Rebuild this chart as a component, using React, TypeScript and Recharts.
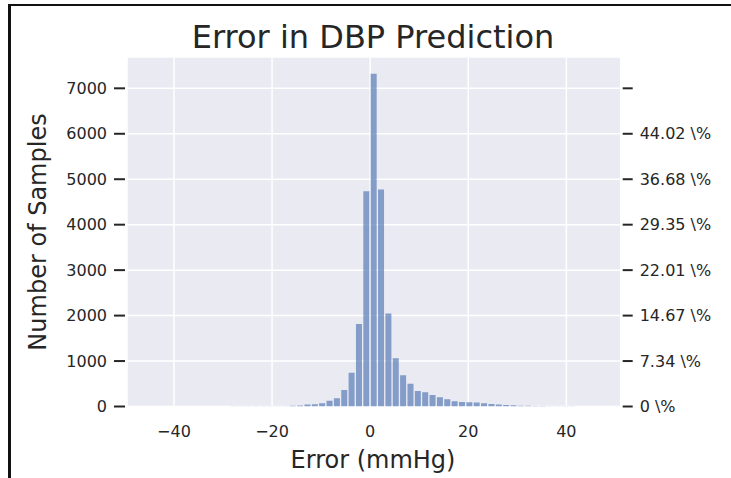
import { ComposedChart, Bar, Line, XAxis, YAxis, CartesianGrid } from 'recharts';

// histogram of prediction error, 1.5 mmHg bins starting at -45
const binStart = -45;
const binWidth = 1.5;
const counts = [
  2, 1, 1, 2, 1, 1, 2, 1, 2, 2,
  2, 3, 3, 3, 4, 4, 5, 6, 8, 15,
  24, 42, 50, 72, 128, 180, 363, 744, 1813, 4736,
  7322, 4773, 2048, 1059, 688, 500, 341, 311, 253, 201,
  158, 117, 99, 92, 90, 70, 55, 46, 33, 26,
  18, 17, 11, 10, 6, 5, 4, 3, 2, 2,
  1,
];
const binCenters = counts.map((_, i) => binStart + binWidth * (i + 0.5));

const xTicks = [-40, -20, 0, 20, 40];
const yTicks = [0, 1000, 2000, 3000, 4000, 5000, 6000, 7000];
const pctLabels = ['0 \\%', '7.34 \\%', '14.67 \\%', '22.01 \\%', '29.35 \\%', '36.68 \\%', '44.02 \\%', ''];

const data = binCenters.map((c, i) => ({ center: c, count: counts[i] }));

const FONT = '"DejaVu Sans", sans-serif';
const INK = '#262626';

const LeftTick = (props: any) => {
  const { x, y, payload } = props;
  return (
    <g>
      <line x1={x - 13} x2={x - 2} y1={y} y2={y} stroke={INK} strokeWidth={2} />
      <text x={x - 20} y={y} textAnchor="end" dominantBaseline="central" fontSize={16} fill={INK} fontFamily={FONT}>
        {payload.value}
      </text>
    </g>
  );
};

const RightTick = (props: any) => {
  const { x, y, index } = props;
  return (
    <g>
      <line x1={x + 2} x2={x + 12} y1={y} y2={y} stroke={INK} strokeWidth={2} />
      <text x={x + 19} y={y} textAnchor="start" dominantBaseline="central" fontSize={16} fill={INK} fontFamily={FONT}>
        {pctLabels[index]}
      </text>
    </g>
  );
};

const BottomTick = (props: any) => {
  const { x, y, payload } = props;
  const v = payload.value;
  return (
    <text x={x} y={y + 25} textAnchor="middle" dominantBaseline="central" fontSize={16} fill={INK} fontFamily={FONT}>
      {v < 0 ? '\u2212' + Math.abs(v) : v}
    </text>
  );
};

export default function App() {
  return (
    <div style={{ position: 'absolute', left: 0, top: 0, width: 731, height: 478, background: '#fff', overflow: 'hidden' }}>
      <div style={{ position: 'absolute', left: 8, top: 4, right: -10, bottom: -10, borderLeft: '3px solid #111', borderTop: '2px solid #111' }} />
      <ComposedChart
        width={731}
        height={478}
        data={data}
        margin={{ top: 57, right: 0, bottom: 0, left: 0 }}
        barCategoryGap="7%"
      >
        <CartesianGrid yAxisId="left" fill="#EAEAF2" stroke="#ffffff" strokeWidth={1.5} />
        <XAxis
          dataKey="center"
          type="number"
          domain={[-49.575, 51.075]}
          ticks={xTicks}
          allowDataOverflow
          axisLine={false}
          tickLine={false}
          tickSize={0}
          tickMargin={0}
          height={71.5}
          tick={<BottomTick />}
        />
        <YAxis
          yAxisId="left"
          domain={[0, 7689]}
          ticks={yTicks}
          allowDataOverflow
          axisLine={false}
          tickLine={false}
          tickSize={0}
          tickMargin={0}
          width={127}
          tick={<LeftTick />}
        />
        <YAxis
          yAxisId="right"
          orientation="right"
          domain={[0, 7689]}
          ticks={yTicks}
          allowDataOverflow
          axisLine={false}
          tickLine={false}
          tickSize={0}
          tickMargin={0}
          width={110.3}
          tick={<RightTick />}
        />
        <Bar yAxisId="left" dataKey="count" fill="#4C72B0" fillOpacity={0.65} isAnimationActive={false} />
        <Line yAxisId="right" dataKey="count" stroke="none" dot={false} activeDot={false} legendType="none" isAnimationActive={false} />
      </ComposedChart>
      <svg width={731} height={478} style={{ position: 'absolute', left: 0, top: 0, pointerEvents: 'none' }}>
        <text x={373} y={37} textAnchor="middle" dominantBaseline="central" fontSize={32} fill={INK} fontFamily={FONT}>
          Error in DBP Prediction
        </text>
        <text x={373} y={460} textAnchor="middle" dominantBaseline="central" fontSize={24} fill={INK} fontFamily={FONT}>
          Error (mmHg)
        </text>
        <text
          x={38}
          y={232}
          textAnchor="middle"
          dominantBaseline="central"
          fontSize={24}
          fill={INK}
          fontFamily={FONT}
          transform="rotate(-90 38 232)"
        >
          Number of Samples
        </text>
      </svg>
    </div>
  );
}
